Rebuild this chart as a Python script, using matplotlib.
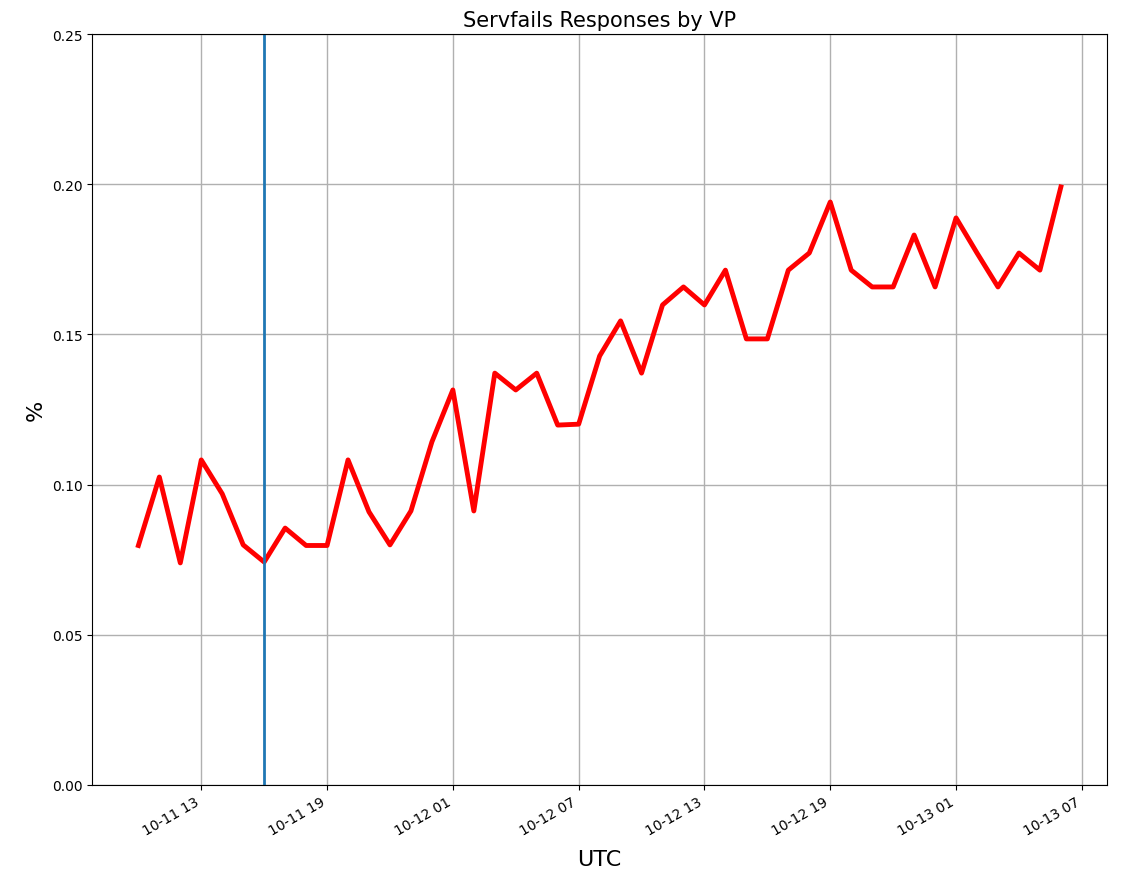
import numpy as np
import pandas as pd
import matplotlib
matplotlib.use('Agg')
import matplotlib.pyplot as plt
import matplotlib.dates as mdates

# hourly servfail share, 10-11 10:00 .. 10-13 06:00 UTC
start = '2018-10-11 10:00'
servfail = [0.0797, 0.1025, 0.0739, 0.1082, 0.0969, 0.0799, 0.0742, 0.0855,
            0.0797, 0.0797, 0.1082, 0.0909, 0.0799, 0.0912, 0.1142, 0.1315,
            0.0912, 0.1371, 0.1315, 0.1371, 0.1198, 0.1201, 0.1428, 0.1545,
            0.1371, 0.1598, 0.1658, 0.1598, 0.1714, 0.1485, 0.1485, 0.1714,
            0.1771, 0.1941, 0.1714, 0.1658, 0.1658, 0.1831, 0.1658, 0.1888,
            0.1771, 0.1658, 0.1771, 0.1714, 0.1991]
event = '2018-10-11 16:00'

times = pd.date_range(start, periods=len(servfail), freq='h')

fig = plt.figure(figsize=(11.25, 8.78), dpi=100)
ax = fig.add_axes([0.082, 0.105, 0.902, 0.855])

ax.plot(times, servfail, color='red', linewidth=3.5)
ax.axvline(pd.Timestamp(event), color='#1f77b4', linewidth=2)

ax.set_ylim(0, 0.25)
ax.set_yticks(np.arange(0, 0.26, 0.05))
ax.yaxis.set_major_formatter(matplotlib.ticker.FormatStrFormatter('%.2f'))
ax.xaxis.set_major_locator(mdates.HourLocator(byhour=[1, 7, 13, 19]))
ax.xaxis.set_major_formatter(mdates.DateFormatter('%m-%d %H'))
ax.grid(True, color='#b0b0b0', linewidth=1)
ax.tick_params(labelsize=10)
for lbl in ax.get_xticklabels():
    lbl.set_rotation(30)
    lbl.set_ha('right')

ax.set_title('Servfails Responses by VP', fontsize=15)
ax.set_xlabel('UTC', fontsize=16, labelpad=8)
ax.set_ylabel('%', fontsize=16)

fig.savefig('out.png', dpi=100)
